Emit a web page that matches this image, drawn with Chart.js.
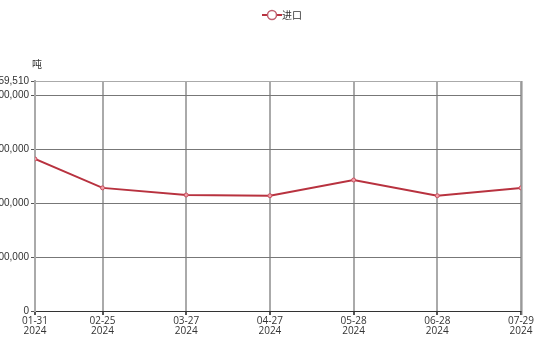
<!DOCTYPE html>
<html lang="zh">
<head>
    <meta charset="UTF-8">
    <title>进口</title>
    <script src="https://cdn.jsdelivr.net/npm/chart.js"></script>
    <style>
        body {
            margin: 0;
            background: #fff;
        }
        .wrap {
            width: 552px;
            height: 339px;
        }
    </style>
</head>
<body>
    <div class="wrap">
        <canvas id="myChart" width="552" height="339"></canvas>
    </div>

    <script>
        const dates = ['2024-01-31', '2024-02-25', '2024-03-27', '2024-04-27', '2024-05-28', '2024-06-28', '2024-07-29'];
        const imports = [2815000, 2280000, 2148000, 2135000, 2426000, 2135000, 2280000];
        const yTicks = [0, 1000000, 2000000, 3000000, 4000000, 4259510];
        const seriesName = '进口';
        const unitLabel = '吨';

        // days since the first date, so the x axis is spaced by time
        const t0 = Date.parse(dates[0]);
        const dayNums = dates.map(d => (Date.parse(d) - t0) / 86400000);
        const points = dayNums.map((x, i) => ({ x: x, y: imports[i] }));

        // legend marker: short line with an open circle
        const marker = document.createElement('canvas');
        marker.width = 20;
        marker.height = 12;
        const mctx = marker.getContext('2d');
        mctx.strokeStyle = '#b8323f';
        mctx.lineWidth = 2;
        mctx.beginPath();
        mctx.moveTo(0, 6);
        mctx.lineTo(20, 6);
        mctx.stroke();
        mctx.beginPath();
        mctx.arc(10, 6, 4.5, 0, Math.PI * 2);
        mctx.fillStyle = '#fff';
        mctx.fill();
        mctx.lineWidth = 1.5;
        mctx.strokeStyle = '#c06070';
        mctx.stroke();

        // leave room between the legend and the plot, and centre it on the page
        const legendGap = {
            id: 'legendGap',
            beforeUpdate(chart) {
                const lg = chart.legend;
                if (lg && !lg._gapPatched) {
                    const fit = lg.fit;
                    lg.fit = function () {
                        fit.call(this);
                        this.height += 51;
                    };
                    lg._gapPatched = true;
                }
            },
            afterLayout(chart) {
                const lg = chart.legend;
                if (lg) {
                    lg.left += 24;
                    lg.right += 24;
                }
            }
        };

        const unitPlugin = {
            id: 'unitPlugin',
            afterDraw(chart) {
                const c = chart.ctx;
                const area = chart.chartArea;
                c.save();
                c.font = '10px "Noto Sans CJK SC"';
                c.fillStyle = '#333';
                c.textAlign = 'center';
                c.textBaseline = 'middle';
                c.fillText(unitLabel, area.left + 2, area.top - 17);

                // right edge of the plot
                c.strokeStyle = '#888';
                c.lineWidth = 1;
                c.beginPath();
                c.moveTo(area.right + 1, area.top);
                c.lineTo(area.right + 1, area.bottom + 4);
                c.stroke();
                c.restore();
            }
        };

        const ctx = document.getElementById('myChart').getContext('2d');
        const myChart = new Chart(ctx, {
            type: 'line',
            data: {
                datasets: [{
                    label: seriesName,
                    data: points,
                    borderColor: '#b8323f',
                    borderWidth: 2,
                    pointRadius: 2,
                    pointBackgroundColor: '#f0a0a8',
                    pointBorderColor: '#c85060',
                    pointBorderWidth: 1,
                    tension: 0,
                    fill: false
                }]
            },
            options: {
                responsive: false,
                animation: false,
                layout: {
                    padding: { left: 0, right: 31, top: 0, bottom: 2 }
                },
                plugins: {
                    legend: {
                        display: true,
                        position: 'top',
                        labels: {
                            usePointStyle: true,
                            pointStyle: marker,
                            boxWidth: 14,
                            color: '#333',
                            font: { family: '"Noto Sans CJK SC"', size: 10 },
                            padding: 10
                        }
                    },
                    tooltip: { enabled: false }
                },
                scales: {
                    x: {
                        type: 'linear',
                        min: dayNums[0],
                        max: dayNums[dayNums.length - 1],
                        afterBuildTicks(scale) {
                            scale.ticks = dayNums.map(v => ({ value: v }));
                        },
                        ticks: {
                            autoSkip: false,
                            maxRotation: 0,
                            padding: 1,
                            color: '#333',
                            font: { family: '"Open Sans"', size: 10, lineHeight: 1 },
                            callback(value) {
                                const i = dayNums.indexOf(value);
                                if (i < 0) return '';
                                const p = dates[i].split('-');
                                return [p[1] + '-' + p[2], p[0]];
                            }
                        },
                        grid: {
                            color: '#aaa',
                            lineWidth: 2,
                            tickLength: 4,
                            tickColor: '#555'
                        },
                        border: { color: '#333', width: 1 }
                    },
                    y: {
                        min: 0,
                        max: yTicks[yTicks.length - 1],
                        afterBuildTicks(scale) {
                            scale.ticks = yTicks.map(v => ({ value: v }));
                        },
                        afterFit(scale) {
                            scale.width = 35;
                        },
                        ticks: {
                            padding: 2,
                            color: '#333',
                            font: { family: '"Liberation Sans"', size: 10 },
                            callback(value) {
                                return value.toLocaleString('en-US');
                            }
                        },
                        grid: {
                            color(c) {
                                return c.tick && c.tick.value === yTicks[yTicks.length - 1] ? '#aaa' : '#777';
                            },
                            lineWidth: 1,
                            tickLength: 4,
                            tickColor: '#555'
                        },
                        border: { color: '#aaa', width: 2 }
                    }
                }
            },
            plugins: [legendGap, unitPlugin]
        });
    </script>
</body>
</html>
